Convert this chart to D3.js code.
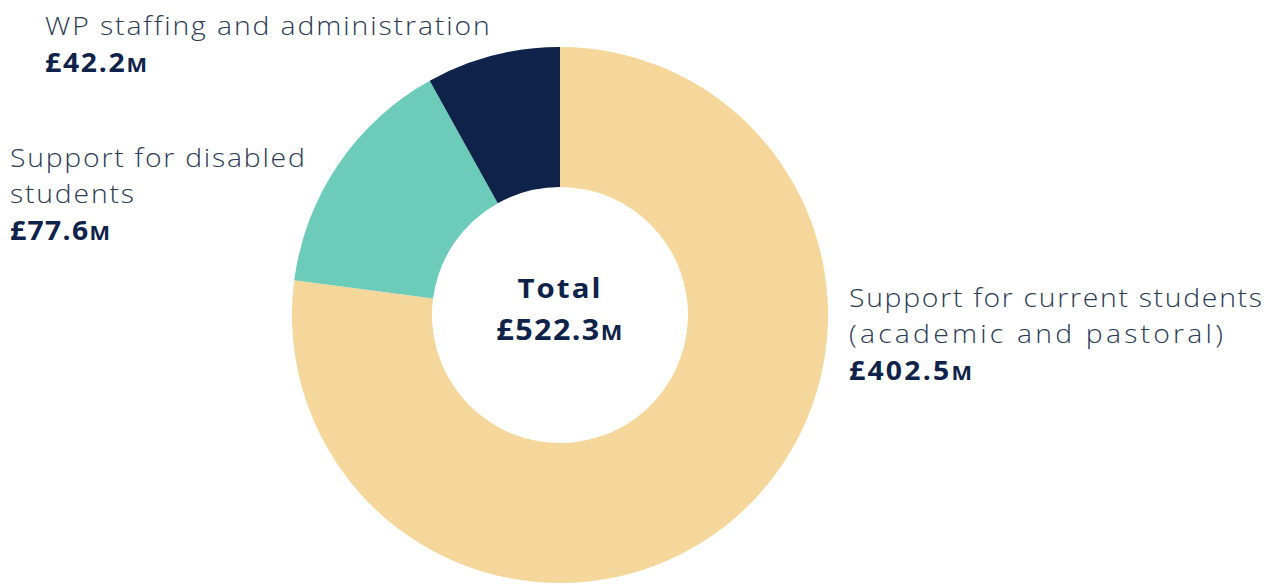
<!DOCTYPE html>
<html>
<head>
<meta charset="utf-8">
<script src="https://cdn.jsdelivr.net/npm/d3@7"></script>
<style>
  body { margin: 0; background: #fff; }
  text { font-family: "Open Sans", Lato, sans-serif; }
</style>
</head>
<body>
<div id="chartContainer"></div>
<script>
const categories = ["Support for current students (academic and pastoral)", "Support for disabled students", "WP staffing and administration"];
const values = [402.5, 77.6, 42.2];
const colours = ["#f6d79b", "#6dcbb9", "#0f2249"];
const totalValue = 522.3;

// label lines per slice, in the same order
const labelLines = [
  ["Support for current students", "(academic and pastoral)"],
  ["Support for disabled", "students"],
  ["WP staffing and administration"]
];

const width = 1274;
const height = 584;
const cx = 560, cy = 315;
const outerR = 268, innerR = 128;

const data = categories.map((c, i) => ({ name: c, value: values[i], colour: colours[i], lines: labelLines[i] }));

const svg = d3.select("#chartContainer")
  .append("svg")
  .attr("width", width)
  .attr("height", height);

const g = svg.append("g").attr("transform", `translate(${cx}, ${cy})`);

const pie = d3.pie().sort(null).value(d => d.value);
const arc = d3.arc().innerRadius(innerR).outerRadius(outerR);

g.selectAll("path")
  .data(pie(data))
  .enter()
  .append("path")
  .attr("d", arc)
  .attr("fill", d => d.data.colour);

// the original face is wider than Open Sans: stretch a little, then space the rest
function fitWidth(sel, x, y, target) {
  sel.each(function() {
    const w = this.getComputedTextLength();
    const s = Math.min(1.09, target / w);
    const n = this.getNumberOfChars();
    const extra = (target / s - w) / Math.max(1, n - 1);
    d3.select(this)
      .attr("letter-spacing", extra.toFixed(2) + "px")
      .attr("transform", `translate(${x}, ${y}) scale(${s.toFixed(3)}, 1)`);
  });
}

function money(sel, v, big, small) {
  sel.append("tspan").attr("font-size", big + "px").text("£" + v.toFixed(1));
  sel.append("tspan").attr("font-size", small + "px").text("M");
}

// centre total
g.append("text")
  .attr("text-anchor", "middle")
  .attr("font-size", "27px")
  .attr("font-weight", 700)
  .attr("fill", "#0f2249")
  .text("Total")
  .call(fitWidth, 0, -17, 83);

g.append("text")
  .attr("text-anchor", "middle")
  .attr("font-weight", 700)
  .attr("fill", "#0f2249")
  .call(money, totalValue, 28, 21)
  .call(fitWidth, 0, 25, 126);

// outside labels, positions per slice
const labelPos = [
  { x: 849, y: 307, w: [413, 374], vw: 123 },
  { x: 10, y: 167, w: [295, 124], vw: 100 },
  { x: 45, y: 35, w: [445], vw: 102 }
];
const lineGap = 36;

data.forEach((d, i) => {
  const p = labelPos[i];
  const t = svg.append("g").attr("class", "label");
  d.lines.forEach((ln, j) => {
    t.append("text")
      .attr("font-size", "26px")
      .attr("font-weight", 300)
      .attr("fill", "#2b3a55")
      .text(ln)
      .call(fitWidth, p.x, p.y + j * lineGap, p.w[j]);
  });
  t.append("text")
    .attr("font-weight", 700)
    .attr("fill", "#0f2249")
    .call(money, d.value, 26, 20)
    .call(fitWidth, p.x, p.y + d.lines.length * lineGap + 1, p.vw);
});
</script>
</body>
</html>
